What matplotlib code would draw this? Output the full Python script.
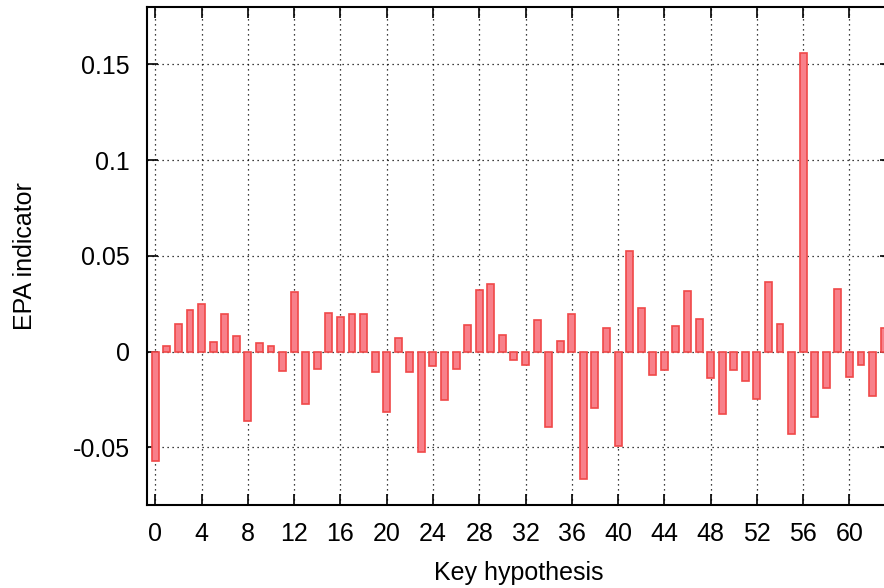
import matplotlib
matplotlib.use("Agg")
import matplotlib.pyplot as plt
import numpy as np

# EPA indicator per key hypothesis (0..63)
keys = list(range(64))
epa = [
    -0.057, 0.003, 0.0144, 0.0217, 0.0248, 0.005, 0.0196, 0.0082,
    -0.036, 0.0043, 0.003, -0.0102, 0.0311, -0.0273, -0.009, 0.0203,
    0.0182, 0.0196, 0.0196, -0.0106, -0.0314, 0.0071, -0.0106, -0.0523,
    -0.0075, -0.025, -0.0092, 0.0141, 0.0321, 0.0352, 0.0087, -0.0043,
    -0.0071, 0.0165, -0.0392, 0.0056, 0.0196, -0.0667, -0.0293, 0.0123,
    -0.049, 0.0526, 0.0227, -0.012, -0.0095, 0.0134, 0.0318, 0.017,
    -0.0139, -0.0326, -0.0095, -0.0155, -0.0247, 0.0363, 0.0144, -0.043,
    0.1556, -0.0342, -0.0188, 0.0326, -0.0132, -0.0071, -0.0231, 0.0123,
]
xticks = list(range(0, 64, 4))
yticks = [-0.05, 0, 0.05, 0.1, 0.15]
ytick_labels = ["-0.05", "0", "0.05", "0.1", "0.15"]

plt.rcParams['font.family'] = ['Liberation Sans', 'DejaVu Sans']

fig = plt.figure(figsize=(8.84, 5.88), dpi=100)
# axes run a little past the right edge of the figure, like the cropped original
ax = fig.add_axes([0.166, 0.1412, 0.842, 0.8474])

ax.bar(keys, epa, width=0.6, color="#f8808a", edgecolor="#f04848",
       linewidth=1.2, zorder=3)

ax.set_xlim(-0.74, 63.6)
ax.set_ylim(-0.08, 0.18)
ax.set_xticks(xticks)
ax.set_yticks(yticks)
ax.set_yticklabels(ytick_labels)

ax.grid(True, color="black", linestyle=(0, (1, 3)), linewidth=0.9, zorder=0)
ax.set_axisbelow(True)

ax.tick_params(direction="in", length=8, width=1.2, top=True, right=True,
               labelsize=18)
ax.tick_params(axis="y", pad=12)
ax.tick_params(axis="x", pad=12)
for s in ax.spines.values():
    s.set_linewidth(1.5)

ax.set_xlabel("Key hypothesis", fontsize=18, labelpad=11)
ax.set_ylabel("EPA indicator", fontsize=18, labelpad=26)

fig.savefig("out.png", dpi=100)
